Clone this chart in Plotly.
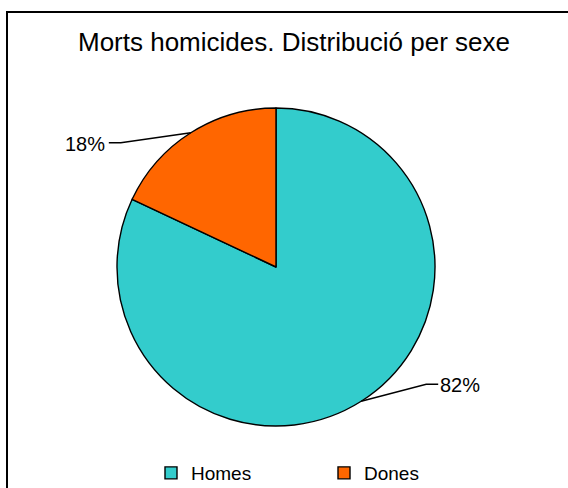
import math
import plotly.graph_objects as go

# data
labels = ["Homes", "Dones"]
values = [82, 18]
colors = ["#33CCCC", "#FF6600"]
title = "Morts homicides. Distribució per sexe"

W, H = 568, 488

# pie geometry in page pixels (margins are zero, so paper == page)
CX, CY, R = 276, 267, 159


def px(x):
    return x / W


def py(y):
    return 1 - y / H


fig = go.Figure()
fig.add_trace(go.Pie(
    labels=labels,
    values=values,
    marker=dict(colors=colors, line=dict(color="black", width=1.4)),
    direction="clockwise",
    sort=False,
    rotation=0,
    textinfo="none",
    hoverinfo="label+percent",
    domain=dict(x=[px(CX - R), px(CX + R)], y=[py(CY + R), py(CY - R)]),
))

# outside labels: elbow offset (from slice edge) and horizontal tail, in px
leader_style = [(65, -17, 12), (-70, 10, -12)]
total = sum(values)
start = 0.0
annotations = []
shapes = []
for val, (ex, ey, tail) in zip(values, leader_style):
    mid = (start + val / 2) / total * 2 * math.pi
    start += val
    x0 = CX + R * math.sin(mid)
    y0 = CY - R * math.cos(mid)
    x1, y1 = x0 + ex, y0 + ey
    x2 = x1 + tail
    shapes.append(dict(
        type="path", xref="paper", yref="paper",
        path=f"M {px(x0)},{py(y0)} L {px(x1)},{py(y1)} L {px(x2)},{py(y1)}",
        line=dict(color="black", width=1.4),
    ))
    annotations.append(dict(
        x=px(x2 + (0 if tail > 0 else -2)), y=py(y1 + 1),
        xref="paper", yref="paper",
        xanchor="left" if tail > 0 else "right", yanchor="middle",
        text=f"{round(val / total * 100)}%", showarrow=False,
        font=dict(size=20, color="black"),
    ))

# chart border
shapes.append(dict(type="rect", xref="paper", yref="paper",
                   x0=px(7), x1=1.02, y0=-0.02, y1=py(12),
                   line=dict(color="black", width=2)))

fig.update_layout(
    width=W, height=H,
    margin=dict(l=0, r=0, t=0, b=0, autoexpand=False),
    paper_bgcolor="white",
    plot_bgcolor="white",
    font=dict(family="Liberation Sans, Arial, sans-serif", color="black"),
    title=dict(text=title, x=px(294), xanchor="center",
               y=py(41.5), yanchor="middle",
               font=dict(size=26, color="black")),
    annotations=annotations,
    shapes=shapes,
    showlegend=True,
    legend=dict(orientation="h", x=px(151), xanchor="left",
                y=py(473), yanchor="middle",
                entrywidth=128, entrywidthmode="pixels",
                font=dict(size=19, color="black"),
                bgcolor="rgba(0,0,0,0)",
                itemclick=False, traceorder="normal"),
)

fig.write_html("out.html", config={"displayModeBar": False},
               post_script="document.body.style.margin='0';")
